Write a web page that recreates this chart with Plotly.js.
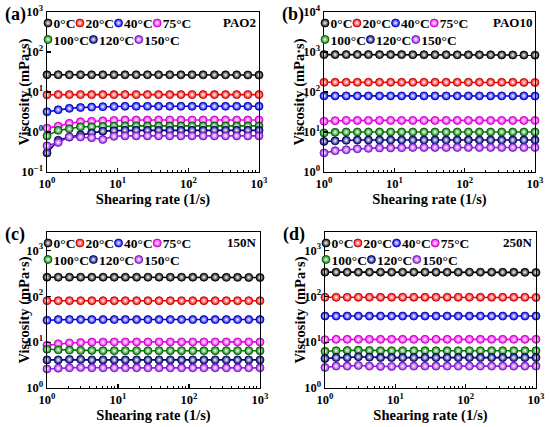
<!DOCTYPE html>
<html>
<head>
<meta charset="utf-8">
<script src="https://cdn.plot.ly/plotly-3.0.1.min.js"></script>
<style>html,body{margin:0;padding:0;background:#fff;}#chart{width:550px;height:427px;}</style>
</head>
<body>
<div id="chart"></div>
<script>
// ---- data ----
const rate = [1, 1.44, 2.07, 2.98, 4.28, 6.16, 8.86, 12.7, 18.3, 26.4, 37.9, 54.6, 78.5, 113, 162, 234, 336, 483, 695, 1000];
const temps = ['0°C', '20°C', '40°C', '75°C', '100°C', '120°C', '150°C'];
const colors = ['#000000', '#ff0000', '#0000ff', '#ff00ff', '#008000', '#000080', '#9a1ef0'];
const lineColors = ['#000000', '#b00000', '#0000a0', '#b000b0', '#005000', '#000050', '#6a10a8'];
const panelNames = ['PAO2', 'PAO10', '150N', '250N'];
const panelLetters = ['(a)', '(b)', '(c)', '(d)'];
const xTickVals = [1, 10, 100, 1000];
const xTickText = ['10<sup>0</sup>', '10<sup>1</sup>', '10<sup>2</sup>', '10<sup>3</sup>'];
const yTickValsA = [0.1, 1, 10, 100, 1000];
const yTickTextA = ['10<sup>−1</sup>', '10<sup>0</sup>', '10<sup>1</sup>', '10<sup>2</sup>', '10<sup>3</sup>'];
const yTickValsB = [1, 10, 100, 1000, 10000];
const yTickTextB = ['10<sup>0</sup>', '10<sup>1</sup>', '10<sup>2</sup>', '10<sup>3</sup>', '10<sup>4</sup>'];
const yTickValsCD = [1, 10, 100, 1000];
const yTickTextCD = ['10<sup>0</sup>', '10<sup>1</sup>', '10<sup>2</sup>', '10<sup>3</sup>'];

const pao2 = [
  [27, 27, 27, 27, 27, 27, 27, 27, 27, 27, 27, 27, 27, 27, 27, 27, 26.8, 26.8, 26.7, 26.5],
  [8.5, 8.6, 8.6, 8.6, 8.6, 8.6, 8.6, 8.6, 8.6, 8.6, 8.6, 8.6, 8.6, 8.6, 8.6, 8.6, 8.6, 8.6, 8.6, 8.6],
  [3.2, 3.6, 3.9, 4.1, 4.2, 4.3, 4.35, 4.4, 4.4, 4.4, 4.4, 4.4, 4.4, 4.4, 4.4, 4.4, 4.4, 4.4, 4.4, 4.4],
  [1.25, 1.4, 1.65, 1.8, 1.85, 1.9, 1.95, 2.0, 2.0, 2.0, 2.0, 2.0, 2.0, 2.0, 2.0, 2.0, 2.0, 2.0, 2.0, 2.0],
  [0.8, 1.1, 1.2, 1.35, 1.35, 1.38, 1.4, 1.42, 1.42, 1.42, 1.42, 1.42, 1.42, 1.42, 1.42, 1.42, 1.42, 1.42, 1.42, 1.42],
  [0.3, 0.62, 0.75, 0.85, 0.95, 1.05, 1.08, 1.1, 1.1, 1.1, 1.1, 1.1, 1.1, 1.1, 1.1, 1.1, 1.1, 1.1, 1.1, 1.1],
  [0.45, 0.55, 0.75, 0.75, 0.72, 0.65, 0.78, 0.8, 0.8, 0.8, 0.8, 0.8, 0.8, 0.8, 0.8, 0.8, 0.8, 0.8, 0.8, 0.8]
];
const pao10 = [
  [860, 860, 860, 860, 860, 860, 860, 860, 855, 855, 855, 855, 850, 850, 850, 850, 845, 845, 840, 835],
  [175, 175, 175, 175, 175, 175, 175, 175, 175, 175, 175, 175, 175, 175, 175, 175, 175, 175, 174, 173],
  [80, 80, 80, 80, 80, 80, 80, 80, 80, 80, 80, 80, 80, 80, 80, 80, 80, 80, 80, 79],
  [18.5, 19.2, 19.5, 19.5, 19.5, 19.5, 19.5, 19.5, 19.5, 19.5, 19.5, 19.5, 19.5, 19.5, 19.5, 19.5, 19.5, 19.5, 19.5, 19.5],
  [9.5, 9.8, 10, 10, 10, 10, 10, 10, 10, 10, 10, 10, 10, 10, 10, 10, 10, 10, 10, 10],
  [5.8, 6.0, 6.2, 6.3, 6.3, 6.3, 6.3, 6.3, 6.3, 6.3, 6.3, 6.3, 6.3, 6.3, 6.3, 6.3, 6.3, 6.3, 6.3, 6.3],
  [3.0, 3.4, 3.6, 3.8, 3.9, 4.0, 4.0, 4.05, 4.1, 4.1, 4.1, 4.1, 4.1, 4.1, 4.1, 4.1, 4.1, 4.1, 4.1, 4.1]
];
const n150 = [
  [260, 260, 260, 260, 260, 260, 260, 260, 260, 260, 260, 260, 260, 260, 260, 260, 258, 258, 257, 256],
  [80, 80, 80, 80, 80, 80, 80, 80, 80, 80, 80, 80, 80, 80, 80, 80, 80, 80, 80, 80],
  [30, 31, 31, 31, 31, 31, 31, 31, 31, 31, 31, 31, 31, 31, 31, 31, 31, 31, 31, 31],
  [8.5, 9.2, 9.6, 9.8, 10, 10, 10.1, 10.1, 10.1, 10.1, 10.1, 10.1, 10.1, 10.1, 10.1, 10.1, 10.1, 10.1, 10.1, 10.1],
  [7.0, 6.8, 6.7, 6.6, 6.6, 6.5, 6.5, 6.5, 6.5, 6.5, 6.5, 6.5, 6.5, 6.5, 6.5, 6.5, 6.5, 6.5, 6.5, 6.5],
  [4.1, 4.1, 4.2, 4.2, 4.1, 4.1, 4.1, 4.1, 4.1, 4.1, 4.1, 4.1, 4.1, 4.1, 4.1, 4.1, 4.1, 4.1, 4.1, 4.1],
  [2.6, 2.7, 2.75, 2.8, 2.75, 2.75, 2.75, 2.75, 2.75, 2.75, 2.75, 2.75, 2.75, 2.75, 2.75, 2.75, 2.75, 2.75, 2.75, 2.75]
];
const n250 = [
  [335, 335, 335, 335, 335, 335, 335, 335, 335, 335, 335, 335, 335, 335, 335, 335, 333, 333, 332, 330],
  [95, 95, 95, 95, 95, 95, 95, 95, 95, 95, 95, 95, 95, 95, 95, 95, 95, 95, 95, 94],
  [37, 37, 37, 37, 37, 37, 37, 37, 37, 37, 37, 37, 37, 37, 37, 37, 37, 37, 37, 37],
  [11.3, 11.5, 11.5, 11.5, 11.5, 11.5, 11.5, 11.5, 11.5, 11.5, 11.5, 11.5, 11.5, 11.5, 11.5, 11.5, 11.5, 11.5, 11.5, 11.5],
  [6.3, 6.5, 6.6, 6.7, 6.6, 6.5, 6.5, 6.5, 6.5, 6.5, 6.5, 6.5, 6.5, 6.5, 6.5, 6.5, 6.5, 6.5, 6.5, 6.5],
  [4.4, 4.6, 4.6, 4.8, 4.7, 4.6, 4.6, 4.6, 4.6, 4.6, 4.6, 4.6, 4.6, 4.6, 4.6, 4.6, 4.6, 4.6, 4.6, 4.6],
  [2.8, 3.0, 3.0, 3.1, 3.0, 2.95, 2.95, 3.0, 3.0, 3.0, 3.0, 3.0, 3.0, 3.0, 3.0, 3.0, 3.0, 3.0, 3.0, 3.0]
];
const yRanges = [[-1, 3], [0, 4], [0, 3.4], [0, 3.4]];
const yTicks = [[yTickValsA, yTickTextA], [yTickValsB, yTickTextB], [yTickValsCD, yTickTextCD], [yTickValsCD, yTickTextCD]];

// ---- layout geometry ----
const W = 550, H = 427;
const boxes = [ // [left, right, top, bottom] in px
  [47, 259, 12, 172],
  [324, 535, 12, 172],
  [47, 260, 232, 388],
  [325, 536, 232, 388]
];
const yTitleCenters = [24, 299, 24, 300];
const FONT = 'Liberation Serif, Times New Roman, serif';
const LEG_SIZE = 13.5;
const panelsData = [pao2, pao10, n150, n250];

const traces = [];
panelsData.forEach((series, p) => {
  const sfx = p === 0 ? '' : String(p + 1);
  series.forEach((vals, i) => {
    traces.push({
      x: rate, y: vals, name: temps[i], type: 'scatter', mode: 'lines+markers',
      xaxis: 'x' + sfx, yaxis: 'y' + sfx,
      legend: 'legend' + sfx,
      line: {color: colors[i], width: 1.6},
      marker: {size: 8, color: colors[i], line: {color: lineColors[i], width: 0.8},
               gradient: {type: 'radial', color: '#ffffff'}},
      hoverinfo: 'skip', cliponaxis: false
    });
  });
});

const layout = {
  width: W, height: H, margin: {l: 0, r: 0, t: 0, b: 0},
  paper_bgcolor: '#fff', plot_bgcolor: '#fff',
  font: {family: FONT, color: '#000', size: 13, weight: 'bold'},
  showlegend: true, annotations: []
};
const tickFont = {family: FONT, size: 12.5, weight: 'bold', color: '#000'};
const titleFont = {family: FONT, size: 14.5, weight: 'bold', color: '#000'};
boxes.forEach((b, p) => {
  const sfx = p === 0 ? '' : String(p + 1);
  layout['xaxis' + sfx] = {
    type: 'log', range: [0, 3], tickmode: 'array', tickvals: xTickVals, ticktext: xTickText,
    domain: [b[0] / W, b[1] / W], anchor: 'y' + sfx,
    showline: true, mirror: true, linecolor: '#000', linewidth: 1.3,
    ticks: 'inside', ticklen: 4, tickwidth: 1.2, tickcolor: '#000',
    minor: {ticks: 'inside', ticklen: 2, tickwidth: 1, tickcolor: '#000', dtick: 'D1', showgrid: false},
    showgrid: false, zeroline: false, tickfont: tickFont,
    title: {text: 'Shearing rate (1/s)', font: titleFont, standoff: 0}
  };
  layout['yaxis' + sfx] = {
    type: 'log', range: yRanges[p], tickmode: 'array', tickvals: yTicks[p][0], ticktext: yTicks[p][1],
    domain: [1 - b[3] / H, 1 - b[2] / H], anchor: 'x' + sfx,
    showline: true, mirror: true, linecolor: '#000', linewidth: 1.3,
    ticks: 'inside', ticklen: 4, tickwidth: 1.2, tickcolor: '#000',
    showgrid: false, zeroline: false, tickfont: tickFont,
    title: {text: 'Viscosity (mPa·s)', font: titleFont, standoff: 0}
  };
  layout['legend' + sfx] = {
    x: (b[0] + 2) / W, y: 1 - (b[2] + 2) / H, xanchor: 'left', yanchor: 'top',
    orientation: 'v', bgcolor: 'rgba(0,0,0,0)', borderwidth: 0, tracegroupgap: 0,
    font: {family: FONT, size: LEG_SIZE, weight: 'bold', color: '#000'}
  };
  layout.annotations.push({
    text: panelLetters[p], xref: 'paper', yref: 'paper', showarrow: false,
    x: (b[0] - 44) / W, y: 1 - (b[2] - 10) / H, xanchor: 'left', yanchor: 'top',
    font: {family: FONT, size: 18, weight: 'bold', color: '#000'}
  });
  layout.annotations.push({
    text: panelNames[p], xref: 'paper', yref: 'paper', showarrow: false,
    x: (b[1] - 1) / W, y: 1 - (b[2] + 1) / H, xanchor: 'right', yanchor: 'top',
    font: {family: FONT, size: 13, weight: 'bold', color: '#000'}
  });
});

function pageBox(el, sr) {
  const r = el.getBoundingClientRect();
  return {l: r.left - sr.left, r: r.right - sr.left, t: r.top - sr.top, b: r.bottom - sr.top};
}
const measureCtx = document.createElement('canvas').getContext('2d');
function textWidth(s) {
  measureCtx.font = 'bold ' + LEG_SIZE + 'px "Liberation Serif"';
  return measureCtx.measureText(s).width;
}

// Rearrange each panel's legend into two compact rows (marker directly followed by its label).
// Idempotent, so it can safely run again after any late redraw.
function compactLegends(gd) {
  gd.querySelectorAll('g.infolayer .scrollbox').forEach(s => s.removeAttribute('clip-path'));
  gd.querySelectorAll('g.infolayer > g').forEach(g => g.removeAttribute('clip-path'));
  const svg = gd.querySelector('svg.main-svg');
  const sr = svg.getBoundingClientRect();
  const items = [];
  gd.querySelectorAll('g.traces').forEach(it => {
    const d = it.__data__;
    const tr = d && d[0] && d[0].trace;
    if (!tr || !it.querySelector('.legendpoints')) return;
    items.push({el: it, idx: tr.index, name: tr.name});
  });
  const cursor = {};
  items.sort((a, b) => a.idx - b.idx).forEach(o => {
    const p = Math.floor(o.idx / 7), i = o.idx % 7;
    const b = boxes[p];
    if (i === 0 || i === 4) cursor[p] = b[0] - 3;
    const row = i < 4 ? 0 : 1;
    const it = o.el;
    it.querySelectorAll('.legendlines, .legendfill').forEach(l => l.setAttribute('display', 'none'));
    const sym = it.querySelector('.legendpoints path') || it.querySelector('.legendpoints');
    const tx = cursor[p] + 4, ty = b[2] + 11 + row * 16.5;
    it.setAttribute('transform', 'translate(0,0)');
    const s0 = pageBox(sym, sr);
    const dx = tx - (s0.l + s0.r) / 2, dy = ty - (s0.t + s0.b) / 2;
    it.setAttribute('transform', 'translate(' + dx + ',' + dy + ')');
    // pull every label of this item right next to its marker
    it.querySelectorAll('text').forEach(txt => {
      txt.removeAttribute('transform');
      const t0 = pageBox(txt, sr);
      if (t0.r - t0.l <= 0) return;
      txt.setAttribute('transform', 'translate(' + ((tx + 5.5) - t0.l) + ',0)');
    });
    cursor[p] += 10 + textWidth(o.name);
  });
  // place the y-axis titles close to the tick labels, as in the reference
  ['g-ytitle', 'g-y2title', 'g-y3title', 'g-y4title'].forEach((cls, p) => {
    const g = gd.querySelector('g.' + cls);
    if (!g) return;
    g.removeAttribute('transform');
    const bb = pageBox(g, sr);
    const dxT = yTitleCenters[p] - (bb.l + bb.r) / 2;
    g.setAttribute('transform', 'translate(' + dxT + ',0)');
  });
}

Plotly.newPlot('chart', traces, layout, {staticPlot: true, displayModeBar: false}).then(gd => {
  compactLegends(gd);
  requestAnimationFrame(() => compactLegends(gd));
  setTimeout(() => compactLegends(gd), 60);
  setTimeout(() => compactLegends(gd), 300);
});
</script>
</body>
</html>
